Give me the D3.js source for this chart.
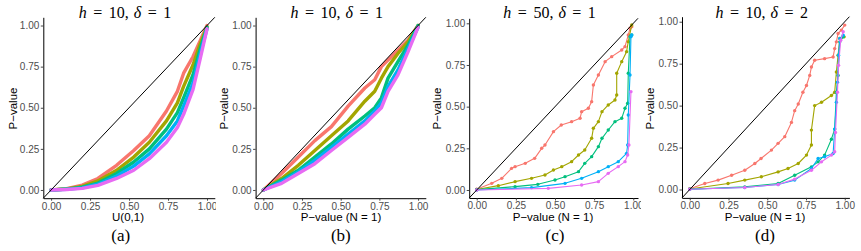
<!DOCTYPE html>
<html>
<head>
<meta charset="utf-8">
<script src="https://cdn.jsdelivr.net/npm/d3@7"></script>
<style>
  html, body { margin: 0; padding: 0; background: #fff; }
  svg { display: block; }
</style>
</head>
<body>
<div id="chart"></div>
<script>
// labels
const panelTitles = [
  { h: '10', d: '1' },
  { h: '10', d: '1' },
  { h: '50', d: '1' },
  { h: '10', d: '2' }
];
const captions = ['(a)', '(b)', '(c)', '(d)'];
const xTitles = ['U(0,1)', 'P\u2212value (N = 1)', 'P\u2212value (N = 1)', 'P\u2212value (N = 1)'];
const yTitle = 'P\u2212value';
const tickValues = [0, 0.25, 0.5, 0.75, 1];
const seriesColors = ['#F8766D', '#A3A500', '#00BF7D', '#00B0F6', '#E76BF3'];

// panel (a) : shared x grid + one y array per series
const aX       = [0, 0.1, 0.2, 0.3, 0.42, 0.53, 0.63, 0.74, 0.81, 0.85, 0.91, 0.957, 1.0];
const aRed     = [0, 0.008, 0.03, 0.07, 0.15, 0.24, 0.33, 0.48, 0.60, 0.71, 0.81, 0.91, 1.0];
const aOlive   = [0, 0.006, 0.022, 0.055, 0.12, 0.20, 0.29, 0.42, 0.53, 0.63, 0.76, 0.89, 0.99];
const aGreen   = [0, 0.005, 0.017, 0.042, 0.10, 0.17, 0.25, 0.37, 0.47, 0.56, 0.70, 0.86, 0.99];
const aBlue    = [0, 0.004, 0.013, 0.035, 0.085, 0.145, 0.22, 0.33, 0.42, 0.51, 0.65, 0.83, 0.98];
const aMagenta = [0, 0.003, 0.010, 0.028, 0.07, 0.12, 0.19, 0.29, 0.38, 0.46, 0.61, 0.80, 0.98];

// panel (b)
const bX       = [0, 0.118, 0.226, 0.333, 0.44, 0.548, 0.656, 0.72, 0.763, 0.806, 0.87, 0.935, 1.0];
const bRed     = [0, 0.10, 0.20, 0.30, 0.385, 0.51, 0.62, 0.67, 0.75, 0.79, 0.85, 0.91, 1.0];
const bOlive   = [0, 0.07, 0.15, 0.24, 0.33, 0.42, 0.54, 0.60, 0.68, 0.75, 0.83, 0.90, 1.0];
const bGreen   = [0, 0.06, 0.12, 0.20, 0.28, 0.37, 0.45, 0.50, 0.56, 0.68, 0.78, 0.88, 1.0];
const bBlue    = [0, 0.05, 0.11, 0.18, 0.26, 0.34, 0.42, 0.48, 0.53, 0.63, 0.73, 0.86, 0.99];
const bMagenta = [0, 0.04, 0.10, 0.16, 0.24, 0.32, 0.40, 0.46, 0.50, 0.60, 0.70, 0.84, 0.99];

// panel (c) : [x, y] points
const cRed = [[0,0.005],[0.096,0.04],[0.16,0.07],[0.223,0.13],[0.245,0.14],[0.31,0.16],[0.37,0.19],[0.415,0.25],[0.436,0.27],[0.49,0.35],[0.54,0.39],[0.606,0.41],[0.66,0.43],[0.67,0.47],[0.713,0.49],[0.734,0.53],[0.745,0.63],[0.777,0.69],[0.82,0.77],[0.862,0.80],[0.926,0.84],[0.947,0.86],[0.968,0.93],[0.979,0.97],[0.99,0.98]];
const cOlive = [[0,0.003],[0.138,0.026],[0.245,0.05],[0.35,0.07],[0.436,0.09],[0.49,0.12],[0.543,0.14],[0.606,0.17],[0.65,0.21],[0.69,0.24],[0.734,0.31],[0.745,0.37],[0.777,0.41],[0.80,0.47],[0.84,0.51],[0.883,0.54],[0.894,0.57],[0.894,0.70],[0.926,0.77],[0.957,0.83],[0.968,0.89],[0.99,0.99]];
const cGreen = [[0,0.002],[0.245,0.02],[0.39,0.034],[0.5,0.06],[0.564,0.08],[0.65,0.11],[0.69,0.16],[0.734,0.20],[0.777,0.26],[0.80,0.31],[0.84,0.36],[0.883,0.41],[0.926,0.43],[0.947,0.49],[0.964,0.52],[0.968,0.70],[0.979,0.92],[0.99,0.93]];
const cBlue = [[0,0],[0.35,0.014],[0.564,0.04],[0.67,0.07],[0.777,0.11],[0.84,0.14],[0.904,0.17],[0.957,0.22],[0.964,0.27],[0.968,0.45],[0.979,0.69],[0.985,0.92],[0.99,0.93]];
const cMagenta = [[0,0],[0.457,0.01],[0.67,0.03],[0.777,0.05],[0.84,0.10],[0.904,0.14],[0.947,0.17],[0.964,0.21],[0.972,0.27],[0.985,0.59]];

// panel (d)
const dRed = [[0,0.005],[0.097,0.036],[0.183,0.056],[0.27,0.085],[0.355,0.115],[0.42,0.155],[0.46,0.185],[0.527,0.235],[0.57,0.275],[0.613,0.315],[0.656,0.40],[0.677,0.47],[0.70,0.51],[0.73,0.58],[0.753,0.62],[0.774,0.68],[0.785,0.73],[0.806,0.77],[0.87,0.78],[0.925,0.79],[0.935,0.84],[0.946,0.88],[0.957,0.93],[0.978,0.95],[1.0,0.98]];
const dOlive = [[0,0.003],[0.247,0.036],[0.355,0.056],[0.462,0.076],[0.57,0.105],[0.634,0.125],[0.70,0.155],[0.753,0.205],[0.785,0.265],[0.785,0.354],[0.806,0.50],[0.85,0.52],[0.914,0.56],[0.935,0.58],[0.946,0.70],[0.957,0.80],[0.968,0.90],[0.996,0.91]];
const dGreen = [[0,0.002],[0.355,0.016],[0.57,0.036],[0.677,0.085],[0.785,0.135],[0.828,0.165],[0.87,0.205],[0.914,0.30],[0.935,0.36],[0.946,0.58],[0.957,0.68],[0.968,0.88],[0.99,0.91]];
const dBlue = [[0,0.002],[0.355,0.012],[0.57,0.03],[0.677,0.056],[0.785,0.125],[0.828,0.185],[0.87,0.195],[0.925,0.215],[0.935,0.36],[0.946,0.52],[0.953,0.64],[0.96,0.80],[0.968,0.90],[0.99,0.92]];
const dMagenta = [[0,0.002],[0.355,0.012],[0.57,0.03],[0.677,0.062],[0.785,0.115],[0.85,0.165],[0.914,0.205],[0.935,0.225],[0.94,0.34],[0.953,0.58],[0.96,0.74],[0.974,0.89],[0.99,0.94]];

const zipXY = (xs, ys) => xs.map((x, i) => [x, ys[i]]);

const panelSeries = [
  [aRed, aOlive, aGreen, aBlue, aMagenta].map(ys => zipXY(aX, ys)),
  [bRed, bOlive, bGreen, bBlue, bMagenta].map(ys => zipXY(bX, ys)),
  [cRed, cOlive, cGreen, cBlue, cMagenta],
  [dRed, dOlive, dGreen, dBlue, dMagenta]
];

// layout (pixels) per panel
const panels = [
  { left: 43.3,  right: 214.8, top: 17.3, bottom: 198.2, dom: [-0.05, 1.05],  thick: true,  yTitleX: 12.5,  xCenter: 128, capX: 120.7, clipR: 216 },
  { left: 255.6, right: 425.8, top: 17.3, bottom: 198.2, dom: [-0.05, 1.05],  thick: true,  yTitleX: 224,   xCenter: 341, capX: 340.8, clipR: 432 },
  { left: 469.2, right: 638,   top: 18.3, bottom: 198,   dom: [-0.048, 1.03], thick: false, yTitleX: 437.3, xCenter: 553, capX: 555,   clipR: 641 },
  { left: 682,   right: 849.4, top: 16.7, bottom: 197.9, dom: [-0.05, 1.03],  thick: false, yTitleX: 650,   xCenter: 765, capX: 765,   clipR: 861 }
];

const width = 861, height = 251;

const svg = d3.select('#chart').append('svg')
  .attr('width', width)
  .attr('height', height)
  .style('font-family', '"Liberation Sans", Arial, sans-serif');

const defs = svg.append('defs');

panels.forEach((p, pi) => {

  const clipLeft = pi === 0 ? 0 : panels[pi - 1].clipR;
  defs.append('clipPath').attr('id', 'sub' + pi)
    .append('rect')
    .attr('x', clipLeft).attr('y', 0)
    .attr('width', p.clipR - clipLeft).attr('height', height);

  const g = svg.append('g').attr('clip-path', `url(#sub${pi})`);

  const x = d3.scaleLinear().domain(p.dom).range([p.left, p.right]);
  const y = d3.scaleLinear().domain(p.dom).range([p.bottom, p.top]);

  const line = d3.line().x(d => x(d[0])).y(d => y(d[1]));

  // series
  panelSeries[pi].forEach((pts, si) => {
    g.append('path')
      .datum(pts)
      .attr('fill', 'none')
      .attr('stroke', seriesColors[si])
      .attr('stroke-width', p.thick ? 3.4 : 1.1)
      .attr('stroke-linejoin', 'round')
      .attr('stroke-linecap', 'round')
      .attr('d', line);

    if (!p.thick) {
      g.append('g').selectAll('circle')
        .data(pts)
        .join('circle')
        .attr('cx', d => x(d[0]))
        .attr('cy', d => y(d[1]))
        .attr('r', 1.7)
        .attr('fill', seriesColors[si]);
    }
  });

  // y = x reference line
  g.append('line')
    .attr('x1', x(p.dom[0])).attr('y1', y(p.dom[0]))
    .attr('x2', x(p.dom[1])).attr('y2', y(p.dom[1]))
    .attr('stroke', '#000')
    .attr('stroke-width', 1);

  // axes
  const fmt = d3.format('.2f');
  const xAxisG = g.append('g')
    .attr('transform', `translate(0,${p.bottom})`)
    .call(d3.axisBottom(x).tickValues(tickValues).tickFormat(fmt).tickSize(2.5).tickSizeOuter(0).tickPadding(1.8));
  const yAxisG = g.append('g')
    .attr('transform', `translate(${p.left},0)`)
    .call(d3.axisLeft(y).tickValues(tickValues).tickFormat(fmt).tickSize(2.5).tickSizeOuter(0).tickPadding(1.5));

  [xAxisG, yAxisG].forEach(a => {
    a.select('.domain').attr('stroke', '#000').attr('stroke-width', 1);
    a.selectAll('.tick line').attr('stroke', '#333').attr('stroke-width', 0.9);
    a.selectAll('.tick text')
      .attr('fill', '#4D4D4D')
      .style('font-size', '10px')
      .style('font-family', '"Liberation Sans", Arial, sans-serif');
  });

  // axis titles
  g.append('text')
    .attr('x', p.xCenter)
    .attr('y', 221)
    .attr('text-anchor', 'middle')
    .style('font-size', '11.5px')
    .attr('fill', '#000')
    .text(xTitles[pi]);

  g.append('text')
    .attr('transform', `translate(${p.yTitleX},108.5) rotate(-90)`)
    .attr('dy', '0.35em')
    .attr('text-anchor', 'middle')
    .style('font-size', '11.5px')
    .attr('fill', '#000')
    .text(yTitle);

  // title  h = .., δ = ..
  const t = g.append('text')
    .attr('x', (p.left + p.right) / 2 - 4)
    .attr('y', 18)
    .attr('text-anchor', 'middle')
    .style('font-family', '"Liberation Serif", "DejaVu Serif", serif')
    .style('font-size', '16px')
    .attr('fill', '#000');
  t.append('tspan').style('font-style', 'italic').text('h');
  t.append('tspan').attr('dx', 6.5).text('=');
  t.append('tspan').attr('dx', 6.5).text(panelTitles[pi].h + ',');
  t.append('tspan').attr('dx', 5).style('font-style', 'italic').text('\u03B4');
  t.append('tspan').attr('dx', 6.5).text('=');
  t.append('tspan').attr('dx', 6.5).text(panelTitles[pi].d);

  // caption
  g.append('text')
    .attr('x', p.capX)
    .attr('y', 241)
    .attr('text-anchor', 'middle')
    .style('font-family', '"Liberation Serif", "DejaVu Serif", serif')
    .style('font-size', '17px')
    .attr('fill', '#000')
    .text(captions[pi]);
});
</script>
</body>
</html>
